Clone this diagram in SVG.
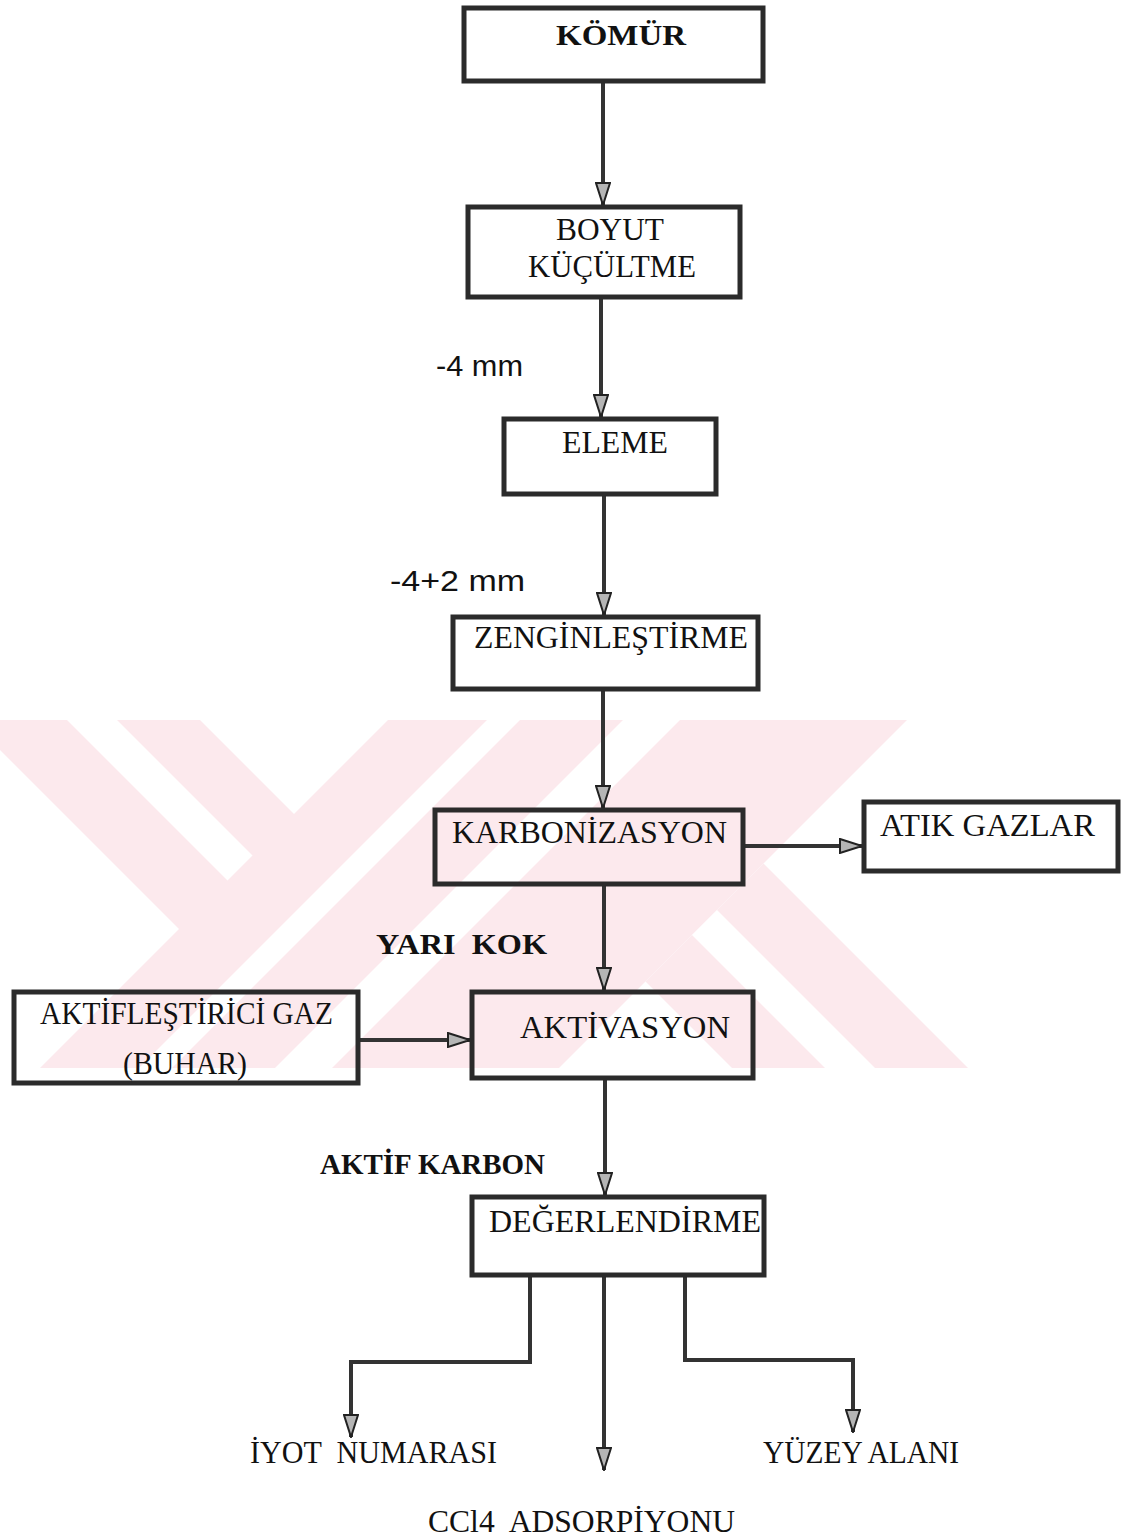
<svg xmlns="http://www.w3.org/2000/svg" width="1130" height="1539" viewBox="0 0 1130 1539">
<style>
.box{fill:none;stroke:#2b2b2b;stroke-width:5}
.lbl{font-family:"Liberation Serif","Times New Roman",serif;font-size:31px;fill:#111}
.bold{font-family:"Liberation Serif","Times New Roman",serif;font-size:30px;font-weight:bold;fill:#111}
.sans{font-family:"Liberation Sans",Arial,sans-serif;font-size:29px;fill:#111}
.con{fill:none;stroke:#333;stroke-width:4}
.arr{marker-end:url(#ah)}
.wm{fill:#fce9ed}
.wh{fill:#ffffff}
</style>
<defs>
<marker id="ah" viewBox="0 0 24 16" refX="23" refY="8" markerWidth="24" markerHeight="16" markerUnits="userSpaceOnUse" orient="auto">
<path d="M1,1 L23,8 L1,15 Z" fill="#b5b5b5" stroke="#222" stroke-width="2"/>
</marker>
<clipPath id="wclip"><rect x="0" y="720" width="1130" height="348"/></clipPath>
</defs>
<rect width="1130" height="1539" fill="#ffffff"/>
<g id="watermark" clip-path="url(#wclip)">
<polygon class="wm" points="-30,720 200,720 580,1100 350,1100"/>
<polygon class="wh" points="67,720 117,720 253.5,856.5 228.5,881.5"/>
<polygon class="wm" points="388,720 907,720 527,1100 8,1100"/>
<polygon class="wm" points="763.5,863.5 1200,1300 1200,1536 645.5,981.5"/>
<polygon class="wh" points="717,910 1200,1393 1200,1443 692,935"/>
<polygon class="wh" points="487,720 520,720 140,1100 107,1100"/>
<polygon class="wh" points="623,720 680,720 300,1100 243,1100"/>
</g>
<g id="connectors">
<line class="con arr" x1="603" y1="83" x2="603" y2="205"/>
<line class="con arr" x1="601" y1="299" x2="601" y2="417"/>
<line class="con arr" x1="604" y1="496" x2="604" y2="615"/>
<line class="con arr" x1="603" y1="691" x2="603" y2="808"/>
<line class="con arr" x1="745" y1="846" x2="862" y2="846"/>
<line class="con arr" x1="604" y1="886" x2="604" y2="990"/>
<line class="con arr" x1="360" y1="1040" x2="470" y2="1040"/>
<line class="con arr" x1="605" y1="1080" x2="605" y2="1195"/>
<path class="con arr" d="M530,1277 V1362 H351 V1437"/>
<line class="con arr" x1="604" y1="1277" x2="604" y2="1470"/>
<path class="con arr" d="M685,1277 V1360 H853 V1432"/>
</g>
<g id="komur"><rect class="box" x="464" y="8" width="299" height="73"/><text class="bold" x="556" y="45" textLength="130" lengthAdjust="spacingAndGlyphs">KÖMÜR</text></g>
<g id="boyut"><rect class="box" x="468" y="207" width="272" height="90"/><text class="lbl" x="556" y="240" textLength="108" lengthAdjust="spacingAndGlyphs">BOYUT</text><text class="lbl" x="528" y="277" textLength="168" lengthAdjust="spacingAndGlyphs">KÜÇÜLTME</text></g>
<g id="eleme"><rect class="box" x="504" y="419" width="212" height="75"/><text class="lbl" x="562" y="453" textLength="106" lengthAdjust="spacingAndGlyphs">ELEME</text></g>
<g id="zenginlestirme"><rect class="box" x="453" y="617" width="305" height="72"/><text class="lbl" x="474" y="648" textLength="274" lengthAdjust="spacingAndGlyphs">ZENGİNLEŞTİRME</text></g>
<g id="karbonizasyon"><rect class="box" x="435" y="810" width="308" height="74"/><text class="lbl" x="452" y="843" textLength="275" lengthAdjust="spacingAndGlyphs">KARBONİZASYON</text></g>
<g id="atikgazlar"><rect class="box" x="864" y="802" width="254" height="69"/><text class="lbl" x="880" y="836" textLength="215" lengthAdjust="spacingAndGlyphs">ATIK GAZLAR</text></g>
<g id="aktiflestirici"><rect class="box" x="14" y="992" width="344" height="91"/><text class="lbl" x="40" y="1024" textLength="293" lengthAdjust="spacingAndGlyphs">AKTİFLEŞTİRİCİ GAZ</text><text class="lbl" x="123" y="1074" textLength="124" lengthAdjust="spacingAndGlyphs">(BUHAR)</text></g>
<g id="aktivasyon"><rect class="box" x="472" y="992" width="281" height="86"/><text class="lbl" x="520" y="1038" textLength="210" lengthAdjust="spacingAndGlyphs">AKTİVASYON</text></g>
<g id="degerlendirme"><rect class="box" x="472" y="1197" width="292" height="78"/><text class="lbl" x="489" y="1232" textLength="272" lengthAdjust="spacingAndGlyphs">DEĞERLENDİRME</text></g>
<g id="iyot"><text class="lbl" x="250" y="1463" textLength="247" lengthAdjust="spacingAndGlyphs" xml:space="preserve">İYOT  NUMARASI</text></g>
<g id="ccl4"><text class="lbl" x="428" y="1532" textLength="307" lengthAdjust="spacingAndGlyphs" xml:space="preserve">CCl4  ADSORPİYONU</text></g>
<g id="yuzey"><text class="lbl" x="763" y="1463" textLength="196" lengthAdjust="spacingAndGlyphs">YÜZEY ALANI</text></g>
<g id="labels">
<text class="sans" x="436" y="376" textLength="87" lengthAdjust="spacingAndGlyphs">-4 mm</text>
<text class="sans" x="390" y="591" textLength="135" lengthAdjust="spacingAndGlyphs">-4+2 mm</text>
<text class="bold" x="376" y="954" textLength="171" lengthAdjust="spacingAndGlyphs" xml:space="preserve">YARI  KOK</text>
<text class="bold" x="320" y="1174" textLength="225" lengthAdjust="spacingAndGlyphs">AKTİF KARBON</text>
</g>
</svg>
